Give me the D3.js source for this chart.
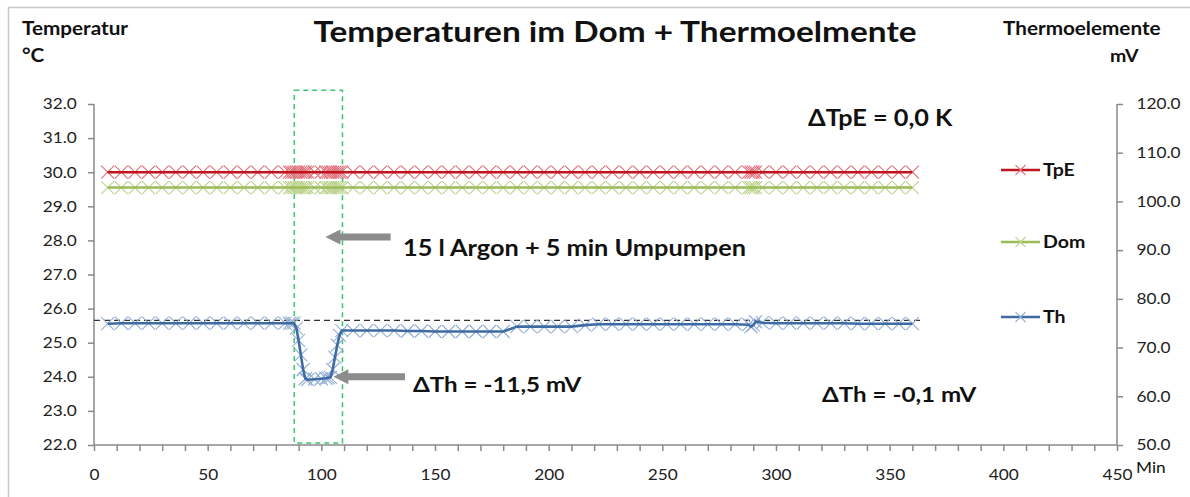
<!DOCTYPE html>
<html>

<head>
  <meta charset="utf-8">
  <title>Temperaturen im Dom + Thermoelmente</title>
  <style>
    body { margin: 0; background: #fff; }
    text { font-family: Lato, "Open Sans", sans-serif; }
  </style>
</head>

<body>
  <svg width="1190" height="497"></svg>
  <script src="https://d3js.org/d3.v7.min.js"></script>
  <script>
    // 1. Daten (Minuten, TpE °C, Dom °C, Th mV)
    var minutes = [6, 12, 18, 24, 30, 36, 42, 48, 54, 60, 66, 72, 78, 84,
      86, 87, 88, 89, 90, 91, 92, 93, 94, 97, 100, 102, 103, 104, 105, 106, 107, 108, 109,
      114, 120, 126, 132, 138, 144, 150, 156, 162, 168, 174, 180, 186, 192, 198, 204, 210, 216,
      222, 228, 234, 240, 246, 252, 258, 264, 270, 276, 282, 288, 289, 290, 291,
      294, 300, 306, 312, 318, 324, 330, 336, 342, 348, 354, 360];
    var tpe = [30.0, 30.0, 30.0, 30.0, 30.0, 30.0, 30.0, 30.0, 30.0, 30.0, 30.0, 30.0, 30.0, 30.0,
      30.0, 30.0, 30.0, 30.0, 30.0, 30.0, 30.0, 30.0, 30.0, 30.0, 30.0, 30.0, 30.0, 30.0, 30.0, 30.0, 30.0, 30.0, 30.0,
      30.0, 30.0, 30.0, 30.0, 30.0, 30.0, 30.0, 30.0, 30.0, 30.0, 30.0, 30.0, 30.0, 30.0, 30.0, 30.0, 30.0, 30.0,
      30.0, 30.0, 30.0, 30.0, 30.0, 30.0, 30.0, 30.0, 30.0, 30.0, 30.0, 30.0, 30.0, 30.0, 30.0,
      30.0, 30.0, 30.0, 30.0, 30.0, 30.0, 30.0, 30.0, 30.0, 30.0, 30.0, 30.0];
    var dom = [29.55, 29.55, 29.55, 29.55, 29.55, 29.55, 29.55, 29.55, 29.55, 29.55, 29.55, 29.55, 29.55, 29.55,
      29.55, 29.55, 29.55, 29.55, 29.55, 29.55, 29.55, 29.55, 29.55, 29.55, 29.55, 29.55, 29.55, 29.55, 29.55, 29.55, 29.55, 29.55, 29.55,
      29.55, 29.55, 29.55, 29.55, 29.55, 29.55, 29.55, 29.55, 29.55, 29.55, 29.55, 29.55, 29.55, 29.55, 29.55, 29.55, 29.55, 29.55,
      29.55, 29.55, 29.55, 29.55, 29.55, 29.55, 29.55, 29.55, 29.55, 29.55, 29.55, 29.55, 29.55, 29.55, 29.55,
      29.55, 29.55, 29.55, 29.55, 29.55, 29.55, 29.55, 29.55, 29.55, 29.55, 29.55, 29.55];
    var th = [74.9, 75.0, 75.0, 75.0, 75.0, 75.0, 75.0, 75.0, 75.0, 75.0, 75.0, 75.0, 75.0, 75.0,
      75.0, 75.0, 75.0, 74.0, 71.5, 68.5, 65.5, 63.6, 63.4, 63.5, 63.6, 63.7, 63.8, 63.9, 65.5, 68.0, 70.5, 72.5, 73.5,
      73.5, 73.5, 73.5, 73.5, 73.4, 73.4, 73.3, 73.3, 73.3, 73.3, 73.3, 73.3, 74.3, 74.3, 74.3, 74.3, 74.3, 74.6,
      74.8, 74.8, 74.8, 74.8, 74.8, 74.8, 74.8, 74.8, 74.8, 74.8, 74.8, 74.7, 74.3, 74.6, 75.3,
      75.1, 75.0, 75.0, 75.0, 75.0, 75.0, 75.0, 74.9, 74.9, 74.9, 74.9, 74.9];

    var xTicks = [0, 50, 100, 150, 200, 250, 300, 350, 400, 450];
    var yLeftTicks = [22, 23, 24, 25, 26, 27, 28, 29, 30, 31, 32];
    var yRightTicks = [50, 60, 70, 80, 90, 100, 110, 120];

    var series = [
      { name: "TpE", values: tpe, axis: "left", line: "#C0141E", marker: "#E0707A", legendY: 170 },
      { name: "Dom", values: dom, axis: "left", line: "#9BBB59", marker: "#BCD38F", legendY: 242 },
      { name: "Th", values: th, axis: "right", line: "#3F6BA3", marker: "#93AED6", legendY: 317 }
    ];

    // Schrift wirkt im Original breiter -> horizontal strecken
    var sx = 1.15;

    // 2. Skalen
    var svg = d3.select("svg");
    var x = d3.scaleLinear().domain([0, 450]).range([94, 1117]);
    var yL = d3.scaleLinear().domain([22, 32]).range([445, 104]);
    var yR = d3.scaleLinear().domain([50, 120]).range([445, 104]);

    // Rahmen
    svg.append("rect").attr("x", 8.5).attr("y", 7.5).attr("width", 1300).attr("height", 600)
      .attr("fill", "none").attr("stroke", "#c8c8c8").attr("stroke-width", 1.5);

    // 3. Achsen
    var axisColor = "#8a8a8a";
    var fmt = d3.format(".1f");

    var gL = svg.append("g").attr("transform", "translate(94,0)")
      .call(d3.axisLeft(yL).tickValues(yLeftTicks).tickFormat(fmt).tickSize(6).tickPadding(9));
    var gR = svg.append("g").attr("transform", "translate(1117,0)")
      .call(d3.axisRight(yR).tickValues(yRightTicks).tickFormat(fmt).tickSize(6).tickPadding(11));
    var gX = svg.append("g").attr("transform", "translate(0,445)")
      .call(d3.axisBottom(x).ticks(45).tickFormat(function (d) {
        return xTicks.indexOf(d) >= 0 ? d : "";
      }).tickSize(6).tickPadding(18));

    [gL, gR, gX].forEach(function (g) {
      g.select(".domain").attr("stroke", axisColor).attr("stroke-width", 1.5);
      g.selectAll(".tick line").attr("stroke", axisColor).attr("stroke-width", 1.5);
      g.selectAll(".tick text").attr("fill", "#222").style("font-size", "15px")
        .style("font-family", "Lato, sans-serif").attr("transform", "scale(" + sx + ",1)");
    });
    gL.select(".domain").attr("d", "M0,104V445");
    gR.select(".domain").attr("d", "M0,104V445");
    gX.select(".domain").attr("d", "M94,0H1117");

    // 4. Markierungen: gestricheltes Rechteck + Referenzlinie
    svg.append("rect")
      .attr("x", x(88.1)).attr("y", yL(32.4))
      .attr("width", x(109.3) - x(88.1)).attr("height", yL(22.06) - yL(32.4))
      .attr("fill", "none").attr("stroke", "#3CC46E").attr("stroke-width", 1.5)
      .attr("stroke-dasharray", "5,4");

    svg.append("line")
      .attr("x1", x(0)).attr("x2", x(364))
      .attr("y1", yR(75.6)).attr("y2", yR(75.6))
      .attr("stroke", "#333").attr("stroke-width", 1.3).attr("stroke-dasharray", "6,4");

    // 5. Reihen
    var cross = "M-6.5,-6.5L6.5,6.5M-6.5,6.5L6.5,-6.5";
    series.forEach(function (s) {
      var yScale = s.axis === "left" ? yL : yR;
      var pts = minutes.map(function (m, i) { return [m, s.values[i]]; });
      svg.append("g").selectAll("path")
        .data(pts).enter().append("path")
        .attr("d", cross)
        .attr("transform", function (d) { return "translate(" + x(d[0]) + "," + yScale(d[1]) + ")"; })
        .attr("fill", "none").attr("stroke", s.marker).attr("stroke-width", 1.1);
      svg.append("path").datum(pts)
        .attr("d", d3.line().x(function (d) { return x(d[0]); }).y(function (d) { return yScale(d[1]); }))
        .attr("fill", "none").attr("stroke", s.line).attr("stroke-width", 2.6)
        .attr("stroke-linejoin", "round");

      // Legende
      var lg = svg.append("g").attr("transform", "translate(1001," + s.legendY + ")");
      lg.append("line").attr("x1", 0).attr("x2", 39).attr("stroke", s.line).attr("stroke-width", 2.6);
      lg.append("path").attr("d", "M-5,-5L5,5M-5,5L5,-5").attr("transform", "translate(19.5,0)")
        .attr("stroke", s.marker).attr("stroke-width", 1.1);
      lg.append("text").attr("transform", "translate(42,6) scale(" + sx + ",1)").attr("fill", "#111")
        .style("font-size", "17px").style("font-weight", "bold").text(s.name);
    });

    // 6. Pfeile
    function arrow(x0, x1, y) {
      var tip = x(x1), tail = x(x0), yy = yL(y);
      svg.append("path")
        .attr("d", "M" + tail + "," + (yy - 3.5) + "H" + (tip + 15) + "V" + (yy - 7.5) +
          "L" + tip + "," + yy + "L" + (tip + 15) + "," + (yy + 7.5) + "V" + (yy + 3.5) + "H" + tail + "Z")
        .attr("fill", "#8c8c8c");
    }
    arrow(130.5, 101.8, 28.1);
    arrow(136.8, 105.3, 24.0);

    // 7. Texte
    function label(tx, ty, str, size, bold, anchor) {
      svg.append("text").attr("transform", "translate(" + tx + "," + ty + ") scale(" + sx + ",1)")
        .attr("text-anchor", anchor || "start").attr("fill", "#111")
        .style("font-size", size + "px").style("font-weight", bold ? "bold" : "normal").text(str);
    }
    label(615, 42, "Temperaturen im Dom + Thermoelmente", 29, true, "middle");
    label(22, 35, "Temperatur", 18, true);
    label(22, 62, "°C", 18, true);
    label(1003, 35, "Thermoelemente", 18, true);
    label(1110, 62, "mV", 17, true);
    label(808, 126, "\u0394TpE = 0,0 K", 22, true);
    label(403, 256, "15 l Argon + 5 min Umpumpen", 22, true);
    label(413, 392, "\u0394Th = -11,5 mV", 21, true);
    label(822, 402, "\u0394Th = -0,1 mV", 21, true);
    label(1136, 473, "Min", 15, false);
  </script>
</body>

</html>
